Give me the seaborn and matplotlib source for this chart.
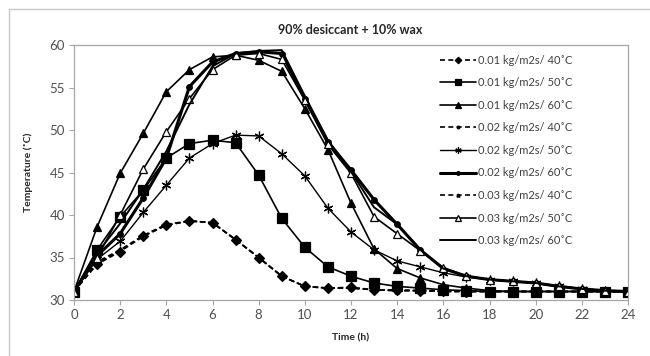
import numpy as np
import pandas as pd
import matplotlib
matplotlib.use("Agg")
import matplotlib.pyplot as plt
import seaborn as sns
from matplotlib.lines import Line2D

hours = list(range(25))

# temperatures (C), one list per run
t_001_40 = [31.0, 34.2, 35.7, 37.5, 38.8, 39.3, 39.1, 37.1, 35.0, 32.8, 31.6, 31.4, 31.5,
            31.2, 31.2, 31.1, 31.1, 31.0, 31.0, 31.0, 31.0, 31.0, 31.0, 31.0, 31.0]
t_001_50 = [31.0, 35.9, 39.8, 42.9, 46.7, 48.4, 48.8, 48.5, 44.7, 39.6, 36.2, 33.9, 32.8,
            32.0, 31.6, 31.4, 31.2, 31.1, 31.0, 31.0, 31.0, 31.0, 31.0, 31.0, 31.0]
t_001_60 = [31.0, 38.6, 44.9, 49.6, 54.5, 57.1, 58.6, 58.8, 58.2, 56.9, 52.5, 47.7, 41.4,
            36.0, 33.7, 32.6, 31.8, 31.4, 31.1, 31.0, 31.0, 31.0, 31.0, 31.0, 31.0]
t_002_40 = [31.0, 34.3, 35.8, 37.5, 38.8, 39.3, 39.1, 37.1, 35.0, 32.8, 31.6, 31.4, 31.4,
            31.2, 31.1, 31.1, 31.0, 31.0, 31.0, 31.0, 31.0, 31.0, 31.0, 31.0, 31.0]
t_002_50 = [31.0, 34.8, 36.9, 40.3, 43.5, 46.7, 48.4, 49.4, 49.3, 47.2, 44.6, 40.8, 38.0,
            35.9, 34.6, 33.9, 33.2, 32.7, 32.4, 32.2, 32.0, 31.7, 31.3, 31.1, 31.0]
t_002_60 = [31.0, 35.2, 37.8, 42.0, 46.7, 55.1, 58.0, 59.0, 59.2, 59.0, 53.7, 48.6, 45.3,
            41.8, 38.9, 35.9, 33.7, 32.8, 32.4, 32.2, 32.0, 31.6, 31.3, 31.1, 31.0]
t_003_40 = [31.0, 34.5, 35.9, 37.6, 38.9, 39.3, 39.1, 37.1, 35.0, 32.8, 31.6, 31.4, 31.4,
            31.2, 31.1, 31.1, 31.0, 31.0, 31.0, 31.0, 31.0, 31.0, 31.0, 31.0, 31.0]
t_003_50 = [31.0, 35.0, 40.0, 45.4, 49.8, 53.7, 57.1, 58.8, 59.0, 58.3, 53.5, 48.3, 44.9,
            39.8, 37.8, 35.8, 33.8, 32.8, 32.4, 32.2, 32.0, 31.6, 31.3, 31.1, 31.0]
t_003_60 = [31.0, 35.5, 39.0, 43.0, 47.5, 53.0, 57.5, 59.0, 59.3, 59.4, 54.0, 48.8, 45.1,
            40.9, 38.9, 35.9, 33.7, 32.8, 32.4, 32.2, 32.0, 31.6, 31.3, 31.1, 31.0]

labels = ["0.01 kg/m2s/ 40˚C", "0.01 kg/m2s/ 50˚C", "0.01 kg/m2s/ 60˚C",
          "0.02 kg/m2s/ 40˚C", "0.02 kg/m2s/ 50˚C", "0.02 kg/m2s/ 60˚C",
          "0.03 kg/m2s/ 40˚C", "0.03 kg/m2s/ 50˚C", "0.03 kg/m2s/ 60˚C"]
series = [t_001_40, t_001_50, t_001_60, t_002_40, t_002_50, t_002_60,
          t_003_40, t_003_50, t_003_60]

# line style, marker, marker size, line width, marker face
styles = [
    ((0, (3, 2)), "D", 5, 1.2, "black"),
    ("-", "s", 7, 1.2, "black"),
    ("-", "^", 6, 1.2, "black"),
    ((0, (3, 2)), "o", 3, 1.2, "black"),
    ("-", (6, 2, 0), 7, 1.0, "black"),
    ("-", "o", 4, 2.2, "black"),
    ((0, (3, 2)), "^", 3.5, 1.2, "black"),
    ("-", "^", 6, 1.2, "white"),
    ("-", None, 0, 1.4, "black"),
]

sns.set_style("white")
plt.rcParams["font.family"] = ["Lato", "DejaVu Sans"]

fig = plt.figure(figsize=(6.5, 3.56), dpi=100)
ax = fig.add_axes([74 / 650, 1 - 300 / 356, (628 - 74) / 650, (300 - 45) / 356])

df = pd.DataFrame({"hour": hours})
handles = []
for lab, vals, (ls, mk, ms, lw, mfc) in zip(labels, series, styles):
    df["temp"] = vals
    kw = dict(linestyle=ls, linewidth=lw, color="black")
    if mk is not None:
        kw.update(marker=mk, markersize=ms, markerfacecolor=mfc,
                  markeredgecolor="black", markeredgewidth=0.9)
    sns.lineplot(data=df, x="hour", y="temp", ax=ax, legend=False, **kw)
    hk = dict(kw)
    if mk is not None:
        hk["markersize"] = ms * 0.65
    handles.append(Line2D([], [], label=lab, **hk))

ax.set_xlim(0, 24)
ax.set_ylim(30, 60)
ax.set_xticks(range(0, 25, 2))
ax.set_yticks(range(30, 61, 5))
for s in ax.spines.values():
    s.set_color("#A6A6A6")
    s.set_linewidth(0.9)
ax.tick_params(axis="both", which="both", direction="out", length=3.5, width=0.8,
               color="#A6A6A6", labelsize=9.5, labelcolor="#505050", pad=3)
ax.tick_params(axis="x", bottom=True)
ax.tick_params(axis="y", left=True)

ax.set_xlabel("Time (h)", fontsize=7.5, fontweight="bold", labelpad=9)
ax.set_ylabel("Temperature (˚C)", fontsize=7.5, fontweight="bold", labelpad=12)
fig.text(350 / 650, 1 - 30 / 356, "90% desiccant + 10% wax", ha="center", va="center",
         fontsize=9, fontweight="bold")

leg = ax.legend(handles=handles, loc="upper left", bbox_to_anchor=(0.66, 0.962),
                frameon=False, fontsize=8, handlelength=3.3, handletextpad=0.15,
                labelspacing=1.04, borderaxespad=0, borderpad=0)
for t in leg.get_texts():
    t.set_color("#404040")

# outer chart border
fig.add_artist(Line2D([9 / 650, 9 / 650], [0, 1 - 9 / 356], transform=fig.transFigure,
                      color="#C8C8C8", linewidth=1))
fig.add_artist(Line2D([9 / 650, 1], [1 - 9 / 356, 1 - 9 / 356], transform=fig.transFigure,
                      color="#C8C8C8", linewidth=1))

fig.savefig("out.png", dpi=100, facecolor="white")
